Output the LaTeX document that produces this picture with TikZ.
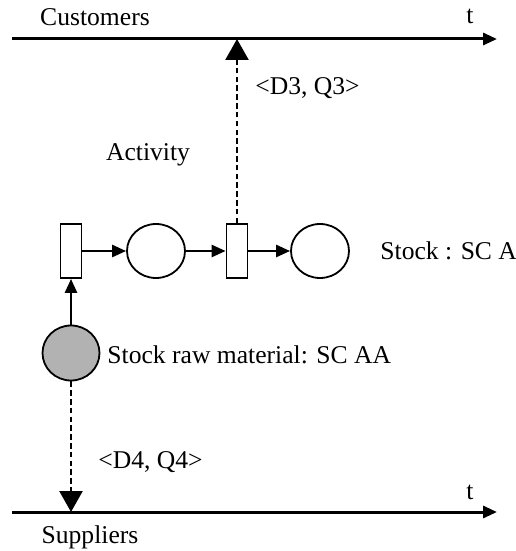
\documentclass[tikz,border=0pt]{standalone}
\usepackage{fontspec}
\setmainfont{Liberation Serif}
\usepackage{tikz}
\usetikzlibrary{shapes.geometric, arrows.meta, positioning}
\tikzstyle{trans} = [rectangle, draw=black, fill=white, line width=0.9pt, minimum width=10.5pt, minimum height=27pt, inner sep=0pt]
\tikzstyle{place} = [ellipse, draw=black, fill=white, line width=0.9pt, minimum width=29pt, minimum height=27pt, inner sep=0pt]
\tikzstyle{rawplace} = [ellipse, draw=black, fill=black!30, line width=0.9pt, minimum width=28.5pt, minimum height=27.5pt, inner sep=0pt]
\tikzstyle{axis} = [line width=1.5pt, -{Triangle[length=7pt,width=6pt]}]
\tikzstyle{arrow} = [line width=1.3pt, -{Triangle[length=7pt,width=6pt]}]
\tikzstyle{flow} = [line width=1.2pt, dash pattern=on 2.8pt off 1.6pt, -{Triangle[length=10.5pt,width=11.5pt]}]
\tikzstyle{lbl} = [font=\fontsize{12.8}{15}\selectfont, inner sep=0pt]

\begin{document}
\begin{tikzpicture}[x=0.5pt, y=-0.5pt]
\useasboundingbox (0,0) rectangle (515,551);

% Time axes
\coordinate (topL) at (12,39);
\coordinate (topR) at (497,39);
\coordinate (botL) at (12,512);
\coordinate (botR) at (497,512);
\draw [axis] (topL) -- (topR);
\draw [axis] (botL) -- (botR);
\node [lbl] (cust) at (95,17) {Customers};
\node [lbl] (ttop) at (470,16) {t};
\node [lbl] (tbot) at (470,492) {t};
\node [lbl] (supp) at (90,537) {Suppliers};

% Petri net
\node [trans] (tr1) at (71,251) {};
\node [place] (pl1) at (156,251) {};
\node [trans] (tr2) at (237,251) {};
\node [place] (pl2) at (320,251) {};
\node [rawplace] (raw) at (71,353) {};

\node [lbl] (act) at (148,155) {Activity};
\node [lbl, anchor=west] (stockA) at (380,251) {Stock : SC A};
\node [lbl, anchor=west] (stockAA) at (107,355) {Stock raw material: SC AA};

% Arcs
\draw [arrow] (tr1.east |- pl1) -- (pl1.west);
\draw [arrow] (pl1.east) -- (tr2.west |- pl1);
\draw [arrow] (tr2.east |- pl2) -- (pl2.west);
\draw [arrow] (raw.north) -- (tr1.south);

% Orders
\draw [flow] (tr2.north) -- (tr2 |- topL);
\draw [flow] (raw.south) -- (raw |- botL);
\node [lbl, anchor=west] (d3) at (255,88) {<D3, Q3>};
\node [lbl, anchor=west] (d4) at (98,462) {<D4, Q4>};

\end{tikzpicture}
\end{document}
